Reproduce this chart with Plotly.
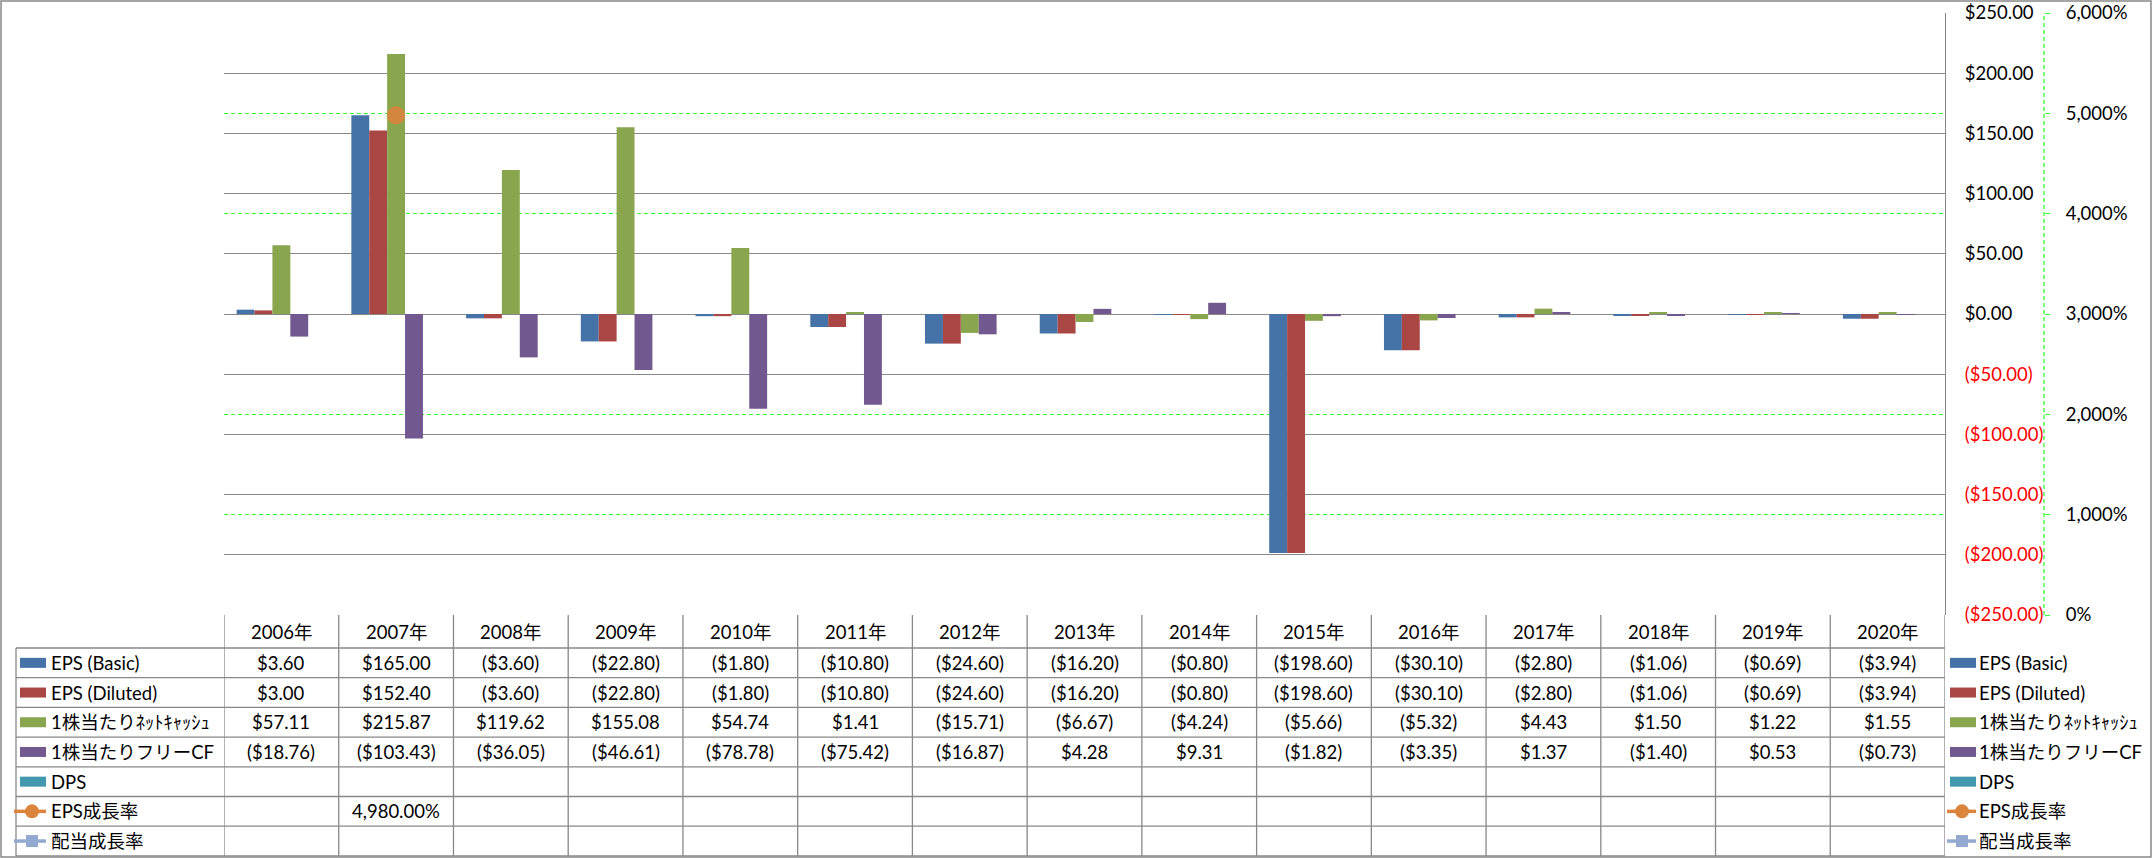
import plotly.graph_objects as go

# ---------------- data ----------------
years = ["2006年", "2007年", "2008年", "2009年", "2010年", "2011年", "2012年", "2013年",
         "2014年", "2015年", "2016年", "2017年", "2018年", "2019年", "2020年"]
eps_basic = [3.60, 165.00, -3.60, -22.80, -1.80, -10.80, -24.60, -16.20, -0.80, -198.60,
             -30.10, -2.80, -1.06, -0.69, -3.94]
eps_diluted = [3.00, 152.40, -3.60, -22.80, -1.80, -10.80, -24.60, -16.20, -0.80, -198.60,
               -30.10, -2.80, -1.06, -0.69, -3.94]
net_cash = [57.11, 215.87, 119.62, 155.08, 54.74, 1.41, -15.71, -6.67, -4.24, -5.66,
            -5.32, 4.43, 1.50, 1.22, 1.55]
free_cf = [-18.76, -103.43, -36.05, -46.61, -78.78, -75.42, -16.87, 4.28, 9.31, -1.82,
           -3.35, 1.37, -1.40, 0.53, -0.73]
dps = [None] * 15
eps_growth = [None, 4980.0, None, None, None, None, None, None, None, None, None, None, None, None, None]
div_growth = [None] * 15

series_names = ["EPS (Basic)", "EPS (Diluted)", "1株当たりﾈｯﾄｷｬｯｼｭ", "1株当たりフリーCF", "DPS",
                "EPS成長率", "配当成長率"]
series_colors = ["#4572A7", "#AA4643", "#89A54E", "#71588F", "#4198AF", "#DB843D", "#93A9CF"]

usd_ticks = [250, 200, 150, 100, 50, 0, -50, -100, -150, -200, -250]
pct_ticks = [0, 1000, 2000, 3000, 4000, 5000, 6000]
pct_grid = [1000, 2000, 4000, 5000]   # green dashed lines not hidden by the $ grid

# ---------------- layout constants ----------------
W, H = 2156, 858
def px(x): return x / W
def py(y): return 1 - y / H

PL, PR, PT, PB = 224, 1945, 13, 615
HDR_BOT = 648
ROW_H = 29.7
FONT = "Lato, 'Noto Sans CJK JP', sans-serif"
FS = 18.5
GRID = "#888888"
GREEN = "#33FF33"

def fmt_usd(v):
    if v is None:
        return ""
    return f"${v:,.2f}" if v >= 0 else f"(${-v:,.2f})"

def fmt_pct(v):
    return "" if v is None else f"{v:,.2f}%"

fig = go.Figure()
bar_data = [eps_basic, eps_diluted, net_cash, free_cf, dps]
for name, vals, col in zip(series_names[:5], bar_data, series_colors[:5]):
    fig.add_trace(go.Bar(x=years, y=vals, name=name, marker_color=col,
                         marker_line_width=0, showlegend=False))
fig.add_trace(go.Scatter(x=years, y=eps_growth, name=series_names[5], yaxis="y2",
                         mode="lines+markers", line=dict(color=series_colors[5], width=3),
                         marker=dict(size=18, color=series_colors[5], opacity=0.9),
                         showlegend=False))
fig.add_trace(go.Scatter(x=years, y=div_growth, name=series_names[6], yaxis="y2",
                         mode="lines+markers", line=dict(color=series_colors[6], width=3),
                         marker=dict(size=12, symbol="square", color=series_colors[6]),
                         showlegend=False))

usd_text = []
for v in usd_ticks:
    t = fmt_usd(float(v))
    usd_text.append(f"<span style='color:#FF0000'>{t}</span>" if v < 0 else t)
pct_text = [f"{v:,}%" for v in pct_ticks]

shapes = []
annotations = []
line_style = dict(color=GRID, width=1.3)

# outer border
shapes.append(dict(type="rect", xref="paper", yref="paper", x0=px(1), x1=px(2151),
                   y0=py(857), y1=py(1), line=dict(color=GRID, width=1.5)))
# secondary axis dashed line
shapes.append(dict(type="line", xref="paper", yref="paper", x0=px(2044), x1=px(2044),
                   y0=py(PB), y1=py(PT), line=dict(color=GREEN, width=1.3, dash="4px,3px")))

n_rows = len(series_names)
table_bot = HDR_BOT + ROW_H * n_rows
# horizontal table lines
for r in range(n_rows + 1):
    y = HDR_BOT + ROW_H * r
    shapes.append(dict(type="line", xref="paper", yref="paper", x0=px(16), x1=px(PR),
                       y0=py(y), y1=py(y), line=line_style))
# left vertical line of legend column
shapes.append(dict(type="line", xref="paper", yref="paper", x0=px(16), x1=px(16),
                   y0=py(HDR_BOT), y1=py(table_bot), line=line_style))
# category boundaries
for i in range(len(years) + 1):
    shapes.append(dict(type="line", xref="x", yref="paper", x0=i - 0.5, x1=i - 0.5,
                       y0=py(PB), y1=py(table_bot), line=line_style))

cell_font = dict(size=FS, color="black")

# header labels
for yr in years:
    annotations.append(dict(x=yr, xref="x", y=py((PB + HDR_BOT) / 2), yref="paper",
                            xanchor="center", yanchor="middle",
                            text=yr, showarrow=False, font=cell_font))

# row values
row_values = [
    [fmt_usd(v) for v in eps_basic],
    [fmt_usd(v) for v in eps_diluted],
    [fmt_usd(v) for v in net_cash],
    [fmt_usd(v) for v in free_cf],
    [fmt_usd(v) for v in dps],
    [fmt_pct(v) for v in eps_growth],
    [fmt_pct(v) for v in div_growth],
]
for r, vals in enumerate(row_values):
    yc = py(HDR_BOT + ROW_H * (r + 0.5))
    for yr, t in zip(years, vals):
        if t:
            annotations.append(dict(x=yr, xref="x", y=yc, yref="paper", text=t,
                                    xanchor="center", yanchor="middle",
                                    showarrow=False, font=cell_font))

# legend entries (left in table, right beside table)
def legend_entry(r, x_sw0, x_text, line_x0, line_x1, mk_cx):
    yc_px = HDR_BOT + ROW_H * (r + 0.5)
    col = series_colors[r]
    if r < 5:
        shapes.append(dict(type="rect", xref="paper", yref="paper", x0=px(x_sw0), x1=px(x_sw0 + 26),
                           y0=py(yc_px + 5), y1=py(yc_px - 5), fillcolor=col, line=dict(width=0)))
    else:
        shapes.append(dict(type="line", xref="paper", yref="paper", x0=px(line_x0), x1=px(line_x1),
                           y0=py(yc_px), y1=py(yc_px), line=dict(color=col, width=3.5)))
        if r == 5:
            shapes.append(dict(type="circle", xref="paper", yref="paper",
                               x0=px(mk_cx - 7), x1=px(mk_cx + 7), y0=py(yc_px + 7), y1=py(yc_px - 7),
                               fillcolor=col, line=dict(width=0)))
        else:
            shapes.append(dict(type="rect", xref="paper", yref="paper",
                               x0=px(mk_cx - 6), x1=px(mk_cx + 6), y0=py(yc_px + 6), y1=py(yc_px - 6),
                               fillcolor=col, line=dict(width=0)))
    annotations.append(dict(x=px(x_text), xref="paper", y=py(yc_px), yref="paper",
                            xanchor="left", yanchor="middle",
                            text=series_names[r], showarrow=False, font=cell_font))

for r in range(n_rows):
    legend_entry(r, 20, 49, 14, 46, 32)
    legend_entry(r, 1950, 1977, 1947, 1976, 1962)

fig.update_layout(
    width=W, height=H,
    margin=dict(l=0, r=0, t=0, b=0),
    paper_bgcolor="white", plot_bgcolor="white",
    font=dict(family=FONT, size=FS, color="black"),
    barmode="group", bargap=0.22, bargroupgap=0,
    showlegend=False,
    xaxis=dict(domain=[px(PL), px(PR)], type="category", range=[-0.5, 14.5],
               showticklabels=False, showgrid=False, zeroline=False, showline=False,
               ticks="", automargin=False),
    yaxis=dict(domain=[py(PB), py(PT)], range=[-250, 250], side="right",
               tickvals=usd_ticks, ticktext=usd_text, showgrid=True, gridcolor=GRID,
               gridwidth=1.3, zeroline=False, showline=True, linecolor=GRID, linewidth=1.3,
               ticks="", ticklabelstandoff=15, automargin=False,
               tickfont=dict(size=FS, color="black")),
    yaxis2=dict(overlaying="y", side="right", anchor="free", position=px(2044),
                range=[0, 6000], tickvals=pct_ticks, ticktext=pct_text,
                showgrid=False, zeroline=False, showline=False, ticks="outside", ticklen=5,
                tickcolor=GREEN, tickwidth=1.3, ticklabelstandoff=12, automargin=False,
                minor=dict(tickmode="array", tickvals=pct_grid, ticks="", showgrid=True,
                           gridcolor=GREEN, gridwidth=1.3, griddash="4px,3px"),
                tickfont=dict(size=FS, color="black")),
    shapes=shapes,
    annotations=annotations,
)

fig.write_html("out.html",
               config={"displayModeBar": False},
               post_script="document.body.style.margin='0';document.body.style.padding='0';")
